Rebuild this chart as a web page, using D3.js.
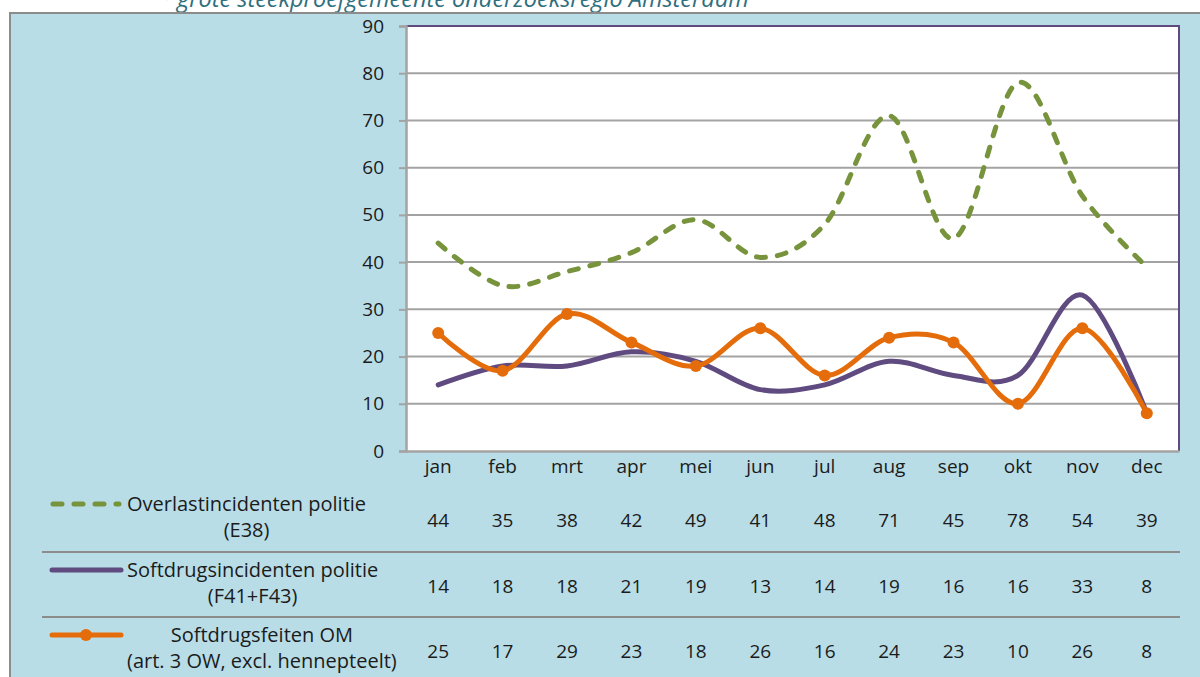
<!DOCTYPE html>
<html>
<head>
<meta charset="utf-8">
<script src="https://cdn.jsdelivr.net/npm/d3@7"></script>
<style>
  html, body { margin: 0; padding: 0; background: #fff; }
  svg { display: block; }
  text { font-family: "Open Sans", "Noto Sans", sans-serif; }
</style>
</head>
<body>
<svg id="chart" width="1200" height="677"></svg>
<script>
const months = ['jan', 'feb', 'mrt', 'apr', 'mei', 'jun', 'jul', 'aug', 'sep', 'okt', 'nov', 'dec']
const overlast = [44, 35, 38, 42, 49, 41, 48, 71, 45, 78, 54, 39]
const softdrugsIncidenten = [14, 18, 18, 21, 19, 13, 14, 19, 16, 16, 33, 8]
const softdrugsOM = [25, 17, 29, 23, 18, 26, 16, 24, 23, 10, 26, 8]
const yTicks = [0, 10, 20, 30, 40, 50, 60, 70, 80, 90]
const seriesLabels = [
  ['Overlastincidenten politie', '(E38)'],
  ['Softdrugsincidenten politie', '(F41+F43)'],
  ['Softdrugsfeiten OM', '(art. 3 OW, excl. hennepteelt)']
]
const titleText = '* grote steekproefgemeente onderzoeksregio Amsterdam'

const svg = d3.select('#chart')

const plot = { left: 406, right: 1179, top: 26, bottom: 451 }
const gridColor = '#a3a3a3'
const borderColor = '#8c8c8c'
const textColor = '#1b1b1b'
const numSize = 19
const labelSize = 20

// title (cut off at the top, as in the source)
svg.append('text')
  .attr('x', 158)
  .attr('y', 7)
  .attr('font-size', 23.5)
  .attr('font-style', 'italic')
  .attr('fill', '#2f6f7e')
  .text(titleText)

// blue panel
svg.append('rect')
  .attr('x', 10).attr('y', 13)
  .attr('width', 1200).attr('height', 700)
  .attr('fill', '#b8dde7')
svg.append('path')
  .attr('d', 'M10,677V13H1200')
  .attr('fill', 'none')
  .attr('stroke', borderColor)
  .attr('stroke-width', 2)

// plot area
svg.append('rect')
  .attr('x', plot.left).attr('y', plot.top)
  .attr('width', plot.right - plot.left).attr('height', plot.bottom - plot.top)
  .attr('fill', '#fff')

const x = d3.scaleBand()
  .domain(months)
  .range([plot.left, plot.right])

const y = d3.scaleLinear()
  .domain([0, 90])
  .range([plot.bottom, plot.top])

const cx = d => x(d) + x.bandwidth() / 2

// horizontal grid
svg.append('g')
  .selectAll('line')
  .data(yTicks.slice(1, -1))
  .join('line')
  .attr('x1', plot.left).attr('x2', plot.right)
  .attr('y1', d => y(d)).attr('y2', d => y(d))
  .attr('stroke', gridColor)
  .attr('stroke-width', 2)

// plot border top/right (purple)
svg.append('path')
  .attr('d', `M${plot.left},${plot.top}H${plot.right}V${plot.bottom}`)
  .attr('fill', 'none')
  .attr('stroke', '#5f4b80')
  .attr('stroke-width', 2)

// y axis
const yAxis = svg.append('g')
  .attr('transform', `translate(${plot.left},0)`)
  .call(d3.axisLeft(y).tickValues(yTicks).tickSize(7).tickPadding(15))
yAxis.selectAll('line').attr('stroke', gridColor).attr('stroke-width', 2)
yAxis.select('.domain').attr('stroke', gridColor).attr('stroke-width', 2.5)
yAxis.selectAll('text')
  .attr('font-size', numSize)
  .attr('fill', textColor)
  .attr('font-family', '"Open Sans", sans-serif')

// x axis
const xAxis = svg.append('g')
  .attr('transform', `translate(0,${plot.bottom})`)
  .call(d3.axisBottom(x).tickSize(0).tickPadding(9))
xAxis.select('.domain').attr('stroke', gridColor).attr('stroke-width', 2.5)
xAxis.selectAll('text')
  .attr('font-size', numSize)
  .attr('fill', textColor)
  .attr('font-family', '"Open Sans", sans-serif')

// series
const line = d3.line()
  .x((d, i) => cx(months[i]))
  .y(d => y(d))
  .curve(d3.curveCardinal.tension(0))

svg.append('path')
  .datum(overlast)
  .attr('d', line)
  .attr('fill', 'none')
  .attr('stroke', '#77933c')
  .attr('stroke-width', 5)
  .attr('stroke-linecap', 'round')
  .attr('stroke-dasharray', '9,12')

svg.append('path')
  .datum(softdrugsIncidenten)
  .attr('d', line)
  .attr('fill', 'none')
  .attr('stroke', '#5f4b80')
  .attr('stroke-width', 5)
  .attr('stroke-linecap', 'round')

svg.append('path')
  .datum(softdrugsOM)
  .attr('d', line)
  .attr('fill', 'none')
  .attr('stroke', '#e46c0a')
  .attr('stroke-width', 5)
  .attr('stroke-linecap', 'round')

svg.append('g')
  .selectAll('circle')
  .data(softdrugsOM)
  .join('circle')
  .attr('cx', (d, i) => cx(months[i]))
  .attr('cy', d => y(d))
  .attr('r', 6)
  .attr('fill', '#e46c0a')

// data table below the chart
const rowY = [520, 586, 651]
const tableSeries = [overlast, softdrugsIncidenten, softdrugsOM]

svg.append('g')
  .selectAll('line')
  .data([552, 617])
  .join('line')
  .attr('x1', 42).attr('x2', 1180)
  .attr('y1', d => d).attr('y2', d => d)
  .attr('stroke', borderColor)
  .attr('stroke-width', 2)

tableSeries.forEach((values, r) => {
  svg.append('g')
    .selectAll('text')
    .data(values)
    .join('text')
    .attr('x', (d, i) => cx(months[i]))
    .attr('y', rowY[r])
    .attr('dy', '0.35em')
    .attr('text-anchor', 'middle')
    .attr('font-size', numSize)
    .attr('fill', textColor)
    .text(d => d)
})

// legend keys
const keyY = rowY.map(v => v - 16)
svg.append('line')
  .attr('x1', 53).attr('x2', 119)
  .attr('y1', keyY[0]).attr('y2', keyY[0])
  .attr('stroke', '#77933c')
  .attr('stroke-width', 5)
  .attr('stroke-linecap', 'round')
  .attr('stroke-dasharray', '9,12')
svg.append('line')
  .attr('x1', 52).attr('x2', 121)
  .attr('y1', keyY[1]).attr('y2', keyY[1])
  .attr('stroke', '#5f4b80')
  .attr('stroke-width', 5)
  .attr('stroke-linecap', 'round')
svg.append('line')
  .attr('x1', 52).attr('x2', 121)
  .attr('y1', keyY[2]).attr('y2', keyY[2])
  .attr('stroke', '#e46c0a')
  .attr('stroke-width', 5)
  .attr('stroke-linecap', 'round')
svg.append('circle')
  .attr('cx', 86).attr('cy', keyY[2]).attr('r', 6)
  .attr('fill', '#e46c0a')

// legend labels: two lines, centred on the widest line, block starts at x=127
seriesLabels.forEach((lines, r) => {
  const g = svg.append('g')
  const texts = g.selectAll('text')
    .data(lines)
    .join('text')
    .attr('y', (d, i) => keyY[r] + i * 26)
    .attr('dy', '0.35em')
    .attr('text-anchor', 'middle')
    .attr('font-size', labelSize)
    .attr('fill', textColor)
    .text(d => d)
  let w = 0
  texts.each(function () { w = Math.max(w, this.getComputedTextLength()) })
  texts.attr('x', 127 + w / 2)
})
</script>
</body>
</html>
